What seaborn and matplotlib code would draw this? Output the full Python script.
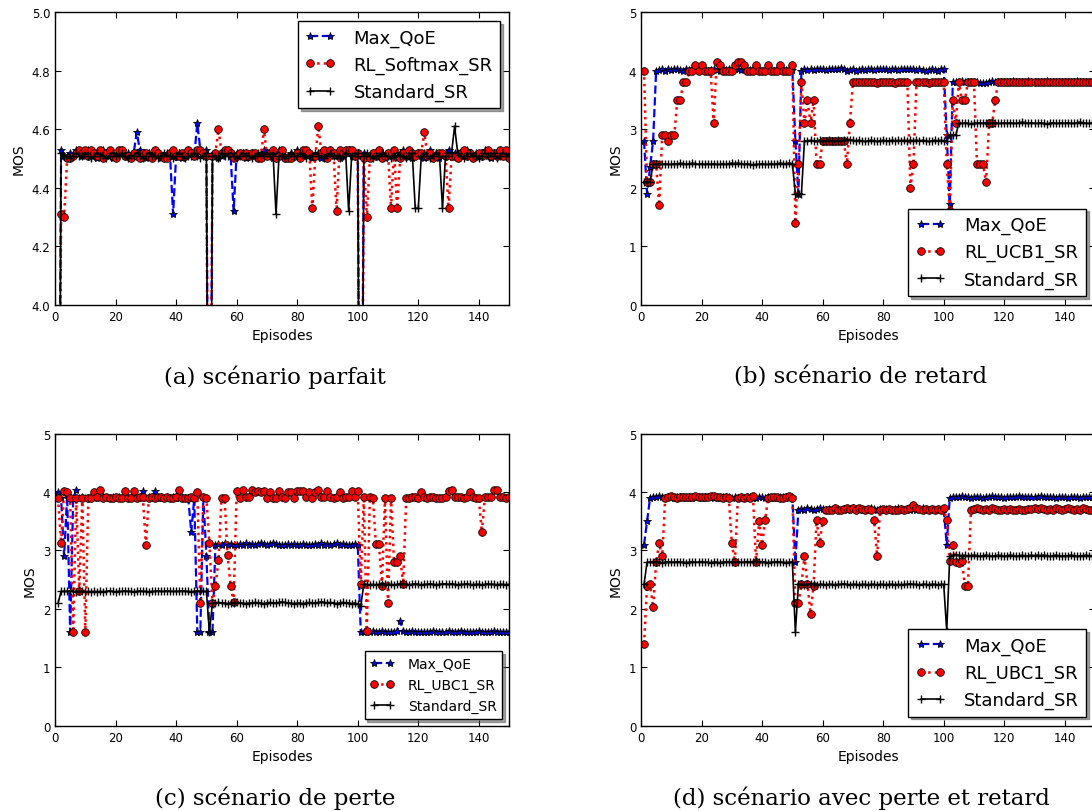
import matplotlib
matplotlib.use("Agg")
import matplotlib.pyplot as plt
import seaborn as sns
from matplotlib.ticker import FormatStrFormatter

# Episodes 1..150
episodes = list(range(1, 151))

# (a) scénario parfait
a_max_qoe = [
    2.8, 4.53, 4.51, 4.50, 4.52, 4.51, 4.53, 4.52, 4.51, 4.52,
    4.53, 4.51, 4.52, 4.50, 4.52, 4.53, 4.51, 4.52, 4.50, 4.51,
    4.52, 4.53, 4.51, 4.52, 4.50, 4.52, 4.59, 4.53, 4.51, 4.50,
    4.52, 4.51, 4.53, 4.52, 4.50, 4.51, 4.52, 4.51, 4.31, 4.51,
    4.52, 4.50, 4.51, 4.53, 4.52, 4.51, 4.62, 4.53, 4.52, 4.53,
    2.8, 4.51, 4.52, 4.50, 4.51, 4.52, 4.53, 4.51, 4.32, 4.52,
    4.51, 4.52, 4.50, 4.51, 4.52, 4.51, 4.50, 4.52, 4.53, 4.51,
    4.52, 4.50, 4.51, 4.53, 4.52, 4.51, 4.50, 4.52, 4.51, 4.53,
    4.52, 4.51, 4.53, 4.52, 4.50, 4.51, 4.52, 4.50, 4.51, 4.52,
    4.53, 4.51, 4.52, 4.50, 4.51, 4.52, 4.53, 4.51, 4.52, 4.51,
    2.8, 4.52, 4.51, 4.50, 4.52, 4.51, 4.53, 4.52, 4.50, 4.51,
    4.52, 4.51, 4.50, 4.52, 4.53, 4.51, 4.52, 4.50, 4.51, 4.52,
    4.51, 4.50, 4.52, 4.53, 4.51, 4.52, 4.50, 4.51, 4.52, 4.53,
    4.51, 4.52, 4.50, 4.51, 4.52, 4.53, 4.51, 4.50, 4.52, 4.51,
    4.52, 4.53, 4.51, 4.50, 4.52, 4.51, 4.53, 4.52, 4.51, 4.52,
]
a_rl = [
    2.6, 4.31, 4.30, 4.50, 4.50, 4.51, 4.52, 4.53, 4.52, 4.53,
    4.51, 4.53, 4.52, 4.51, 4.53, 4.50, 4.52, 4.53, 4.51, 4.50,
    4.53, 4.53, 4.51, 4.51, 4.50, 4.52, 4.51, 4.50, 4.52, 4.52,
    4.51, 4.50, 4.53, 4.52, 4.51, 4.50, 4.50, 4.52, 4.53, 4.51,
    4.51, 4.52, 4.51, 4.53, 4.52, 4.51, 4.53, 4.53, 4.52, 4.51,
    2.6, 4.51, 4.52, 4.60, 4.52, 4.53, 4.53, 4.52, 4.50, 4.51,
    4.52, 4.51, 4.52, 4.51, 4.52, 4.52, 4.50, 4.50, 4.60, 4.51,
    4.52, 4.53, 4.50, 4.51, 4.53, 4.50, 4.50, 4.50, 4.51, 4.52,
    4.50, 4.53, 4.53, 4.52, 4.33, 4.51, 4.61, 4.52, 4.53, 4.50,
    4.53, 4.52, 4.32, 4.53, 4.52, 4.53, 4.53, 4.53, 4.51, 4.52,
    2.6, 4.50, 4.30, 4.50, 4.52, 4.51, 4.53, 4.50, 4.51, 4.52,
    4.33, 4.53, 4.33, 4.50, 4.52, 4.51, 4.53, 4.52, 4.51, 4.52,
    4.52, 4.59, 4.51, 4.52, 4.50, 4.51, 4.52, 4.52, 4.51, 4.33,
    4.51, 4.51, 4.50, 4.52, 4.53, 4.51, 4.52, 4.50, 4.51, 4.52,
    4.51, 4.52, 4.53, 4.51, 4.52, 4.51, 4.53, 4.51, 4.53, 4.50,
]
a_std = [
    2.4, 4.52, 4.51, 4.51, 4.50, 4.51, 4.52, 4.51, 4.51, 4.52,
    4.51, 4.50, 4.51, 4.52, 4.51, 4.51, 4.50, 4.51, 4.52, 4.51,
    4.51, 4.52, 4.51, 4.50, 4.51, 4.51, 4.52, 4.51, 4.50, 4.51,
    4.52, 4.51, 4.51, 4.50, 4.51, 4.52, 4.51, 4.51, 4.50, 4.51,
    4.52, 4.51, 4.50, 4.51, 4.51, 4.52, 4.51, 4.50, 4.51, 4.52,
    2.4, 4.51, 4.51, 4.50, 4.52, 4.51, 4.51, 4.52, 4.51, 4.50,
    4.51, 4.52, 4.51, 4.51, 4.50, 4.51, 4.52, 4.51, 4.51, 4.52,
    4.51, 4.52, 4.31, 4.51, 4.51, 4.50, 4.51, 4.52, 4.51, 4.51,
    4.52, 4.51, 4.50, 4.51, 4.51, 4.52, 4.51, 4.51, 4.50, 4.51,
    4.52, 4.51, 4.51, 4.50, 4.51, 4.52, 4.32, 4.51, 4.51, 4.52,
    2.4, 4.51, 4.52, 4.51, 4.50, 4.51, 4.51, 4.52, 4.51, 4.51,
    4.50, 4.51, 4.52, 4.51, 4.51, 4.50, 4.51, 4.52, 4.33, 4.33,
    4.51, 4.52, 4.51, 4.50, 4.51, 4.52, 4.51, 4.33, 4.51, 4.52,
    4.52, 4.61, 4.52, 4.51, 4.50, 4.51, 4.52, 4.51, 4.51, 4.50,
    4.51, 4.52, 4.51, 4.51, 4.52, 4.50, 4.51, 4.52, 4.51, 4.51,
]

# (b) scénario de retard
b_max_qoe = [
    2.8, 1.9, 2.35, 2.8, 4.0, 4.01, 4.02, 4.0, 4.03, 4.01,
    4.02, 4.02, 4.01, 4.0, 4.02, 4.01, 4.02, 4.03, 4.0, 4.01,
    4.02, 4.0, 4.01, 4.02, 4.01, 4.0, 4.02, 4.01, 4.02, 4.01,
    4.03, 4.02, 4.01, 4.02, 4.0, 4.01, 4.02, 4.01, 4.02, 4.0,
    4.01, 4.02, 4.01, 4.0, 4.02, 4.01, 4.02, 4.01, 4.0, 4.01,
    2.8, 1.9, 4.0, 4.02, 4.01, 4.02, 4.01, 4.02, 4.03, 4.02,
    4.01, 4.02, 4.03, 4.03, 4.02, 4.04, 4.02, 4.0, 4.01, 4.02,
    4.0, 4.01, 4.02, 4.01, 4.02, 4.03, 4.01, 4.02, 4.03, 4.02,
    4.02, 4.01, 4.03, 4.02, 4.01, 4.02, 4.03, 4.02, 4.03, 4.02,
    4.01, 4.02, 4.01, 4.0, 4.01, 4.02, 4.01, 4.0, 4.02, 4.03,
    2.9, 1.72, 3.8, 3.81, 3.8, 3.82, 3.8, 3.81, 3.8, 3.81,
    3.8, 3.78, 3.79, 3.78, 3.8, 3.82, 3.81, 3.8, 3.81, 3.8,
    3.81, 3.8, 3.82, 3.81, 3.8, 3.81, 3.8, 3.82, 3.81, 3.8,
    3.81, 3.8, 3.81, 3.82, 3.8, 3.81, 3.8, 3.81, 3.8, 3.81,
    3.8, 3.81, 3.8, 3.82, 3.81, 3.8, 3.81, 3.8, 3.81, 3.8,
]
b_rl = [
    4.0, 2.1, 2.1, 2.4, 2.4, 1.7, 2.9, 2.9, 2.8, 2.9,
    2.9, 3.5, 3.5, 3.8, 3.8, 4.0, 4.0, 4.1, 4.0, 4.1,
    4.0, 4.0, 4.0, 3.1, 4.15, 4.1, 4.0, 4.0, 4.0, 4.0,
    4.1, 4.15, 4.15, 4.1, 4.0, 4.0, 4.0, 4.1, 4.0, 4.0,
    4.0, 4.1, 4.0, 4.0, 4.0, 4.1, 4.0, 4.0, 4.0, 4.1,
    1.4, 2.4, 3.8, 3.1, 3.5, 3.1, 3.5, 2.4, 2.4, 2.8,
    2.8, 2.8, 2.8, 2.8, 2.8, 2.8, 2.8, 2.4, 3.1, 3.8,
    3.8, 3.8, 3.81, 3.8, 3.81, 3.8, 3.8, 3.79, 3.8, 3.8,
    3.81, 3.8, 3.8, 3.79, 3.8, 3.8, 3.8, 3.8, 2.0, 2.4,
    3.8, 3.81, 3.8, 3.8, 3.79, 3.8, 3.8, 3.8, 3.8, 3.8,
    2.4, 1.6, 3.5, 3.1, 3.8, 3.5, 3.5, 3.8, 3.8, 3.8,
    2.4, 2.4, 2.4, 2.1, 3.1, 3.1, 3.5, 3.8, 3.8, 3.8,
    3.8, 3.81, 3.8, 3.8, 3.8, 3.81, 3.8, 3.8, 3.8, 3.81,
    3.8, 3.8, 3.8, 3.81, 3.8, 3.8, 3.8, 3.8, 3.81, 3.8,
    3.8, 3.8, 3.81, 3.8, 3.8, 3.8, 3.8, 3.8, 3.81, 3.8,
]
b_std = [
    2.1, 2.1, 2.1, 2.4, 2.4, 2.41, 2.4, 2.41, 2.4, 2.4,
    2.41, 2.4, 2.42, 2.41, 2.4, 2.41, 2.42, 2.41, 2.4, 2.41,
    2.4, 2.41, 2.4, 2.41, 2.4, 2.4, 2.41, 2.4, 2.41, 2.42,
    2.41, 2.42, 2.41, 2.4, 2.41, 2.4, 2.39, 2.4, 2.4, 2.41,
    2.4, 2.4, 2.41, 2.4, 2.41, 2.42, 2.41, 2.41, 2.42, 2.41,
    1.9, 1.9, 1.9, 2.8, 2.8, 2.81, 2.8, 2.8, 2.81, 2.8,
    2.8, 2.81, 2.8, 2.79, 2.81, 2.8, 2.82, 2.81, 2.82, 2.81,
    2.8, 2.81, 2.8, 2.79, 2.8, 2.81, 2.8, 2.79, 2.8, 2.81,
    2.8, 2.8, 2.81, 2.8, 2.81, 2.8, 2.81, 2.8, 2.81, 2.8,
    2.81, 2.8, 2.81, 2.8, 2.79, 2.8, 2.81, 2.8, 2.81, 2.8,
    2.8, 2.9, 2.9, 2.9, 3.1, 3.1, 3.11, 3.1, 3.09, 3.1,
    3.1, 3.11, 3.1, 3.11, 3.1, 3.1, 3.11, 3.1, 3.1, 3.11,
    3.1, 3.11, 3.1, 3.1, 3.11, 3.12, 3.11, 3.1, 3.11, 3.1,
    3.1, 3.11, 3.1, 3.09, 3.1, 3.11, 3.1, 3.1, 3.11, 3.1,
    3.11, 3.1, 3.1, 3.11, 3.12, 3.11, 3.1, 3.1, 3.11, 3.1,
]

# (c) scénario de perte
c_max_qoe = [
    4.0, 3.9, 2.9, 3.95, 1.6, 3.9, 4.03, 3.9, 3.91, 3.9,
    3.9, 3.91, 3.9, 3.92, 3.9, 3.91, 3.9, 3.9, 3.91, 3.9,
    3.92, 3.9, 3.91, 3.9, 3.9, 3.91, 3.9, 3.92, 4.02, 3.9,
    3.91, 3.9, 4.02, 3.9, 3.91, 3.9, 3.92, 3.9, 3.91, 3.9,
    3.9, 3.91, 3.9, 3.9, 3.31, 3.9, 1.6, 1.6, 3.92, 2.9,
    1.6, 1.6, 3.1, 3.11, 3.1, 3.12, 3.1, 3.11, 3.09, 3.1,
    3.11, 3.1, 3.12, 3.1, 3.11, 3.1, 3.11, 3.12, 3.11, 3.1,
    3.11, 3.12, 3.11, 3.1, 3.09, 3.1, 3.11, 3.1, 3.11, 3.1,
    3.1, 3.11, 3.1, 3.09, 3.1, 3.11, 3.1, 3.12, 3.1, 3.11,
    3.1, 3.11, 3.12, 3.1, 3.11, 3.1, 3.09, 3.1, 3.11, 3.1,
    1.6, 1.61, 1.62, 1.61, 1.62, 1.6, 1.61, 1.62, 1.6, 1.61,
    1.6, 1.61, 1.63, 1.79, 1.62, 1.61, 1.6, 1.62, 1.61, 1.6,
    1.61, 1.6, 1.6, 1.61, 1.62, 1.61, 1.6, 1.61, 1.6, 1.62,
    1.61, 1.6, 1.61, 1.62, 1.61, 1.6, 1.61, 1.6, 1.61, 1.62,
    1.61, 1.6, 1.61, 1.6, 1.62, 1.61, 1.6, 1.61, 1.6, 1.61,
]
c_rl = [
    3.9, 3.12, 4.02, 4.0, 3.9, 1.6, 3.9, 2.3, 3.9, 1.6,
    3.9, 3.9, 4.0, 3.92, 4.03, 3.9, 3.92, 3.9, 3.9, 3.92,
    3.9, 3.9, 4.02, 3.9, 3.9, 4.01, 3.9, 3.92, 3.92, 3.1,
    3.9, 3.92, 3.9, 3.92, 3.92, 3.9, 3.92, 3.9, 3.9, 3.92,
    4.03, 3.9, 3.9, 3.9, 3.92, 3.9, 4.0, 2.1, 3.92, 3.9,
    3.12, 2.1, 2.4, 2.83, 3.9, 3.9, 2.92, 2.4, 2.12, 4.02,
    3.9, 4.03, 3.92, 3.92, 4.03, 4.0, 4.02, 4.0, 4.02, 3.9,
    4.0, 3.9, 3.9, 4.02, 3.92, 3.9, 4.0, 4.0, 3.9, 4.02,
    4.02, 4.02, 3.92, 4.0, 3.9, 4.0, 4.03, 3.92, 3.92, 4.02,
    3.92, 3.9, 3.92, 4.0, 3.9, 3.92, 3.92, 4.02, 3.92, 4.02,
    2.43, 3.92, 1.63, 3.92, 3.9, 3.11, 3.11, 2.4, 3.9, 2.1,
    3.9, 2.8, 2.8, 2.9, 2.42, 3.9, 3.9, 3.92, 3.92, 3.9,
    4.0, 3.92, 3.9, 3.92, 3.92, 3.9, 3.9, 3.9, 3.92, 4.02,
    4.03, 3.92, 3.92, 3.92, 3.9, 3.92, 4.0, 3.92, 3.9, 3.9,
    3.31, 3.92, 3.92, 3.92, 4.03, 4.03, 3.92, 3.92, 3.9, 3.92,
]
c_std = [
    2.1, 2.3, 2.3, 2.3, 2.31, 2.3, 2.29, 2.3, 2.3, 2.29,
    2.3, 2.29, 2.3, 2.29, 2.3, 2.29, 2.3, 2.31, 2.3, 2.29,
    2.3, 2.3, 2.31, 2.3, 2.3, 2.29, 2.3, 2.31, 2.3, 2.3,
    2.29, 2.3, 2.3, 2.31, 2.3, 2.3, 2.31, 2.3, 2.3, 2.3,
    2.3, 2.31, 2.3, 2.3, 2.29, 2.3, 2.31, 2.3, 2.3, 2.3,
    1.6, 2.1, 2.1, 2.11, 2.1, 2.1, 2.09, 2.1, 2.1, 2.11,
    2.1, 2.1, 2.09, 2.1, 2.1, 2.11, 2.1, 2.1, 2.09, 2.1,
    2.11, 2.1, 2.1, 2.11, 2.12, 2.11, 2.1, 2.1, 2.09, 2.1,
    2.1, 2.09, 2.1, 2.11, 2.1, 2.1, 2.11, 2.12, 2.11, 2.1,
    2.11, 2.1, 2.09, 2.1, 2.11, 2.1, 2.1, 2.09, 2.1, 2.08,
    2.05, 2.42, 2.42, 2.41, 2.42, 2.41, 2.42, 2.43, 2.42, 2.41,
    2.42, 2.41, 2.42, 2.43, 2.42, 2.42, 2.41, 2.42, 2.43, 2.42,
    2.41, 2.42, 2.42, 2.43, 2.42, 2.41, 2.42, 2.43, 2.43, 2.42,
    2.43, 2.42, 2.41, 2.42, 2.42, 2.43, 2.42, 2.41, 2.42, 2.42,
    2.41, 2.42, 2.43, 2.42, 2.42, 2.41, 2.42, 2.42, 2.41, 2.42,
]

# (d) scénario avec perte et retard
d_max_qoe = [
    3.1, 3.5, 3.9, 3.92, 3.91, 3.93, 3.92, 3.9, 3.92, 3.91,
    3.9, 3.91, 3.92, 3.91, 3.9, 3.91, 3.9, 3.92, 3.91, 3.9,
    3.91, 3.92, 3.91, 3.9, 3.91, 3.9, 3.91, 3.92, 3.91, 3.9,
    3.91, 3.9, 3.91, 3.9, 3.92, 3.91, 3.9, 3.9, 3.91, 3.92,
    3.9, 3.91, 3.9, 3.91, 3.9, 3.91, 3.92, 3.91, 3.9, 3.91,
    2.8, 3.7, 3.71, 3.7, 3.72, 3.71, 3.7, 3.71, 3.73, 3.71,
    3.7, 3.71, 3.7, 3.72, 3.71, 3.7, 3.71, 3.7, 3.71, 3.72,
    3.71, 3.7, 3.71, 3.7, 3.71, 3.72, 3.71, 3.7, 3.71, 3.7,
    3.71, 3.7, 3.7, 3.71, 3.72, 3.71, 3.7, 3.71, 3.7, 3.71,
    3.7, 3.71, 3.72, 3.71, 3.7, 3.71, 3.7, 3.71, 3.7, 3.71,
    3.1, 3.9, 3.91, 3.92, 3.91, 3.93, 3.92, 3.91, 3.9, 3.91,
    3.92, 3.91, 3.9, 3.91, 3.92, 3.93, 3.91, 3.92, 3.91, 3.9,
    3.91, 3.92, 3.91, 3.92, 3.93, 3.91, 3.92, 3.91, 3.92, 3.91,
    3.92, 3.93, 3.92, 3.91, 3.92, 3.91, 3.9, 3.91, 3.92, 3.91,
    3.9, 3.91, 3.92, 3.91, 3.9, 3.91, 3.92, 3.91, 3.92, 3.91,
]
d_rl = [
    1.4, 2.4, 2.42, 2.03, 2.8, 3.12, 2.9, 3.9, 3.92, 3.93,
    3.92, 3.9, 3.92, 3.92, 3.92, 3.91, 3.92, 3.93, 3.92, 3.91,
    3.92, 3.92, 3.93, 3.93, 3.92, 3.91, 3.9, 3.92, 3.9, 3.12,
    2.8, 3.9, 3.91, 3.9, 3.91, 3.9, 3.93, 2.8, 3.5, 3.1,
    3.52, 3.9, 3.92, 3.91, 3.92, 3.9, 3.9, 3.91, 3.93, 3.9,
    2.1, 2.1, 2.42, 2.9, 2.42, 1.92, 2.4, 3.52, 3.12, 3.5,
    3.7, 3.69, 3.7, 3.72, 3.7, 3.7, 3.71, 3.72, 3.71, 3.72,
    3.7, 3.72, 3.71, 3.7, 3.71, 3.7, 3.52, 2.9, 3.7, 3.71,
    3.7, 3.71, 3.7, 3.69, 3.7, 3.71, 3.7, 3.71, 3.72, 3.78,
    3.73, 3.71, 3.7, 3.71, 3.7, 3.71, 3.7, 3.71, 3.7, 3.72,
    3.52, 2.82, 3.1, 2.8, 2.78, 2.82, 2.4, 2.4, 3.7, 3.71,
    3.72, 3.71, 3.7, 3.71, 3.7, 3.72, 3.71, 3.7, 3.7, 3.71,
    3.7, 3.71, 3.7, 3.7, 3.71, 3.7, 3.7, 3.71, 3.71, 3.72,
    3.71, 3.72, 3.71, 3.7, 3.71, 3.7, 3.72, 3.71, 3.7, 3.71,
    3.72, 3.71, 3.7, 3.71, 3.7, 3.72, 3.71, 3.7, 3.7, 3.71,
]
d_std = [
    2.42, 2.8, 2.8, 2.81, 2.8, 2.8, 2.79, 2.8, 2.81, 2.8,
    2.8, 2.81, 2.8, 2.8, 2.79, 2.8, 2.81, 2.8, 2.8, 2.81,
    2.8, 2.8, 2.79, 2.8, 2.8, 2.79, 2.8, 2.8, 2.81, 2.8,
    2.8, 2.81, 2.8, 2.8, 2.81, 2.8, 2.81, 2.82, 2.8, 2.81,
    2.8, 2.79, 2.8, 2.8, 2.81, 2.8, 2.8, 2.79, 2.8, 2.8,
    1.6, 2.42, 2.42, 2.41, 2.42, 2.43, 2.42, 2.41, 2.42, 2.42,
    2.41, 2.42, 2.42, 2.41, 2.42, 2.42, 2.43, 2.42, 2.41, 2.42,
    2.42, 2.41, 2.42, 2.42, 2.41, 2.42, 2.42, 2.41, 2.42, 2.42,
    2.41, 2.42, 2.42, 2.41, 2.42, 2.41, 2.42, 2.42, 2.43, 2.42,
    2.42, 2.41, 2.42, 2.42, 2.41, 2.42, 2.42, 2.41, 2.42, 2.42,
    1.62, 2.9, 2.92, 2.93, 2.92, 2.91, 2.92, 2.9, 2.91, 2.92,
    2.91, 2.9, 2.91, 2.92, 2.91, 2.9, 2.91, 2.92, 2.91, 2.9,
    2.91, 2.92, 2.91, 2.9, 2.91, 2.92, 2.9, 2.91, 2.92, 2.91,
    2.92, 2.91, 2.92, 2.91, 2.9, 2.91, 2.92, 2.91, 2.9, 2.91,
    2.91, 2.92, 2.91, 2.9, 2.91, 2.91, 2.92, 2.91, 2.91, 2.9,
]

rl_labels = ["RL_Softmax_SR", "RL_UCB1_SR", "RL_UBC1_SR", "RL_UBC1_SR"]
captions = ["(a) scénario parfait", "(b) scénario de retard",
            "(c) scénario de perte", "(d) scénario avec perte et retard"]

sns.set_style("ticks")
plt.rcParams.update({
    "font.family": ["DejaVu Sans"],
    "axes.edgecolor": "k",
    "axes.labelcolor": "k",
    "text.color": "k",
    "xtick.color": "k",
    "ytick.color": "k",
    "axes.linewidth": 1.0,
    "xtick.direction": "in",
    "ytick.direction": "in",
    "xtick.top": True,
    "ytick.right": True,
    "xtick.major.size": 4,
    "ytick.major.size": 4,
    "xtick.labelsize": 8.5,
    "ytick.labelsize": 8.5,
})

fig = plt.figure(figsize=(10.92, 8.12), dpi=100)

# axes rectangles in figure fractions (right column runs past the edge)
rects = [
    [0.0504, 0.6232, 0.4158, 0.3608],
    [0.587, 0.6232, 0.4158, 0.3608],
    [0.0504, 0.1050, 0.4158, 0.3597],
    [0.587, 0.1050, 0.4158, 0.3597],
]
caption_pos = [(0.2518, 0.535), (0.7885, 0.535), (0.2518, 0.017), (0.7885, 0.017)]
panels = [
    (a_max_qoe, a_rl, a_std),
    (b_max_qoe, b_rl, b_std),
    (c_max_qoe, c_rl, c_std),
    (d_max_qoe, d_rl, d_std),
]
legend_locs = ["upper right", "lower right", "lower right", "lower right"]
legend_sizes = [13, 13, 10, 13]

for i, (qoe, rl, std) in enumerate(panels):
    ax = fig.add_axes(rects[i])
    sns.lineplot(x=episodes, y=qoe, ax=ax, color="b", linestyle="--", linewidth=1.6,
                 marker="*", markersize=6, markerfacecolor="b", markeredgecolor="k",
                 markeredgewidth=0.6, label="Max_QoE", errorbar=None)
    sns.lineplot(x=episodes, y=rl, ax=ax, color="r", linestyle=":", linewidth=1.8,
                 marker="o", markersize=5.5, markerfacecolor="r", markeredgecolor="k",
                 markeredgewidth=0.6, label=rl_labels[i], errorbar=None)
    sns.lineplot(x=episodes, y=std, ax=ax, color="k", linestyle="-", linewidth=1.2,
                 marker="+", markersize=6, markeredgecolor="k", markeredgewidth=1.0,
                 label="Standard_SR", errorbar=None)
    ax.set_xlim(0, 150)
    ax.set_xticks(range(0, 141, 20))
    if i == 0:
        ax.set_ylim(4.0, 5.0)
        ax.set_yticks([4.0, 4.2, 4.4, 4.6, 4.8, 5.0])
        ax.yaxis.set_major_formatter(FormatStrFormatter("%.1f"))
    else:
        ax.set_ylim(0, 5)
        ax.set_yticks(range(0, 6))
    ax.set_xlabel("Episodes", fontsize=10)
    ax.set_ylabel("MOS", fontsize=10)
    ax.legend(loc=legend_locs[i], fontsize=legend_sizes[i], frameon=True, fancybox=False,
              shadow=True, edgecolor="k", framealpha=1, numpoints=2,
              handlelength=1.7, handletextpad=1.0)
    fig.text(caption_pos[i][0], caption_pos[i][1], captions[i], ha="center", va="center",
             family="DejaVu Serif", fontsize=16.5)

fig.savefig("out.png", dpi=100)
